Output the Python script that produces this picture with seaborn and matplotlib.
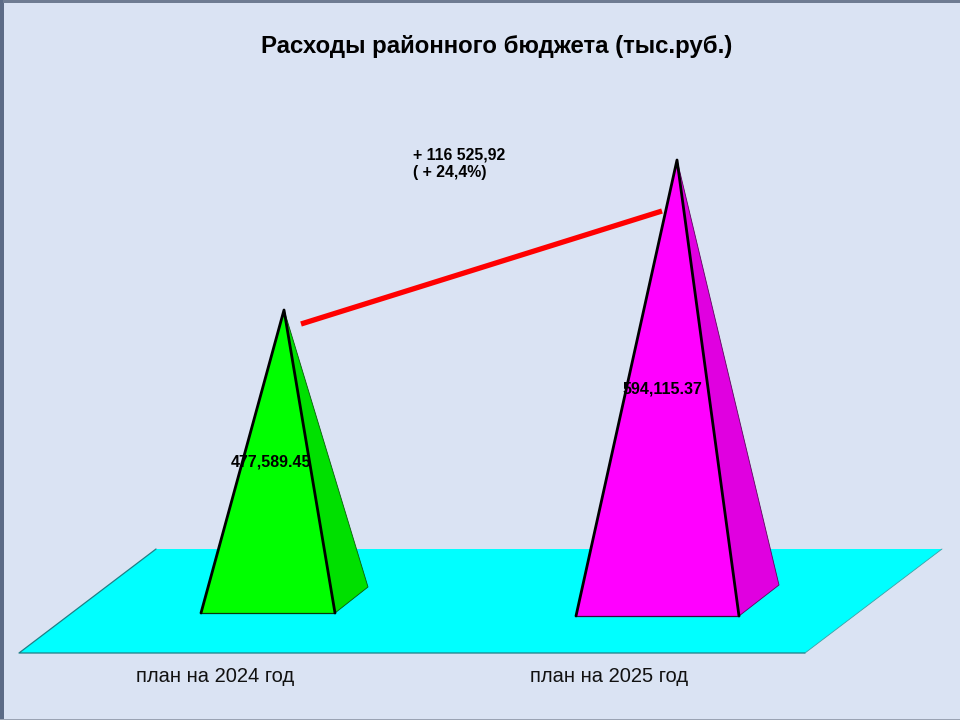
import matplotlib
matplotlib.use("Agg")
import matplotlib.pyplot as plt
import seaborn as sns
import pandas as pd
from matplotlib.patches import Polygon, Rectangle

# --- data ---
categories = ["план на 2024 год", "план на 2025 год"]
values = [477589.45, 594115.37]
value_labels = ["477,589.45", "594,115.37"]
title = "Расходы районного бюджета (тыс.руб.)"
change_label = ["+ 116 525,92", "( + 24,4%)"]

# --- layout (pixel space of the 960x720 slide) ---
W, H = 960, 720
Y_TOP, Y_BOTTOM = 718404.0, 159100.0   # value scale that fills the slide height
apex_x = [284, 677]
base_left = [201, 576]
base_right = [335, 739]
base_y = [613, 616]
back_x = [368, 779]
back_y = [587, 585]
front_colors = ["#00FF00", "#FF00FF"]
side_colors = ["#00E000", "#E000E0"]
floor_px = [(19, 653), (805, 653), (942, 549), (156, 549)]

sns.set_theme(style="white")
plt.rcParams["font.family"] = ["Liberation Sans", "DejaVu Sans"]

fig = plt.figure(figsize=(W / 100, H / 100), dpi=100, facecolor="#DAE3F3")
ax = fig.add_axes([0, 0, 1, 1])
ax.set_xlim(0, W)
ax.set_ylim(Y_BOTTOM, Y_TOP)
ax.set_facecolor("#DAE3F3")
ax.axis("off")


def py(pixel_y):
    """Convert a slide pixel row to the value scale of the axes."""
    return Y_TOP - (Y_TOP - Y_BOTTOM) * pixel_y / H


# slide frame
ax.add_patch(Rectangle((0, py(H)), 3.5, Y_TOP - Y_BOTTOM, color="#5C6B86", lw=0, zorder=1))
ax.add_patch(Rectangle((3, py(3)), W, py(0) - py(3), color="#6F7C92", lw=0, zorder=1))
ax.add_patch(Rectangle((0, py(H)), W, py(719) - py(H), color="#9AA3B3", lw=0, zorder=1))

# floor
ax.add_patch(Polygon([(x, py(y)) for x, y in floor_px], closed=True,
                     facecolor="#00FFFF", edgecolor="none", zorder=2))
ax.plot([floor_px[3][0], floor_px[0][0], floor_px[1][0]],
        [py(floor_px[3][1]), py(floor_px[0][1]), py(floor_px[1][1])],
        color="#1F7F86", lw=0.9, zorder=2.5)
ax.plot([floor_px[1][0], floor_px[2][0]], [py(floor_px[1][1]), py(floor_px[2][1])],
        color="#3F9FA6", lw=0.6, zorder=2.5)

# pyramids: the apex height comes from the value
for i, v in enumerate(values):
    apex = (apex_x[i], v)
    fl = (base_left[i], py(base_y[i]))
    fr = (base_right[i], py(base_y[i]))
    bk = (back_x[i], py(back_y[i]))
    ax.add_patch(Polygon([apex, fr, bk], closed=True, facecolor=side_colors[i],
                         edgecolor="#0A5A0A" if i == 0 else "#5A0A5A", lw=0.6,
                         joinstyle="round", zorder=3))
    ax.add_patch(Polygon([apex, fl, fr], closed=True, facecolor=front_colors[i],
                         edgecolor="none", zorder=4))
    ax.plot([fl[0], fr[0]], [fl[1], fr[1]], color="#0A3A0A" if i == 0 else "#3A0A3A",
            lw=0.9, zorder=5)
    ax.plot([fl[0], apex[0], fr[0]], [fl[1], apex[1], fr[1]], color="black", lw=2.0,
            solid_joinstyle="round", zorder=5)

# connector between the two pyramids
connector = pd.DataFrame({"x": [301, 662], "y": [py(324), py(211)]})
sns.lineplot(data=connector, x="x", y="y", color="#FF0000", lw=3.8, ax=ax, zorder=6,
             estimator=None, sort=False, solid_capstyle="butt")
ax.set_xlim(0, W)
ax.set_ylim(Y_BOTTOM, Y_TOP)
ax.axis("off")

# text
ax.text(497, py(47), title, ha="center", va="center", fontsize=17.3, fontweight="bold",
        color="black", zorder=7)
ax.text(413, py(155), change_label[0], ha="left", va="center", fontsize=11.4,
        fontweight="bold", color="black", zorder=7)
ax.text(413, py(172), change_label[1], ha="left", va="center", fontsize=11.4,
        fontweight="bold", color="black", zorder=7)
ax.text(271, py(462), value_labels[0], ha="center", va="center", fontsize=11.5,
        fontweight="bold", color="black", zorder=7)
ax.text(662, py(389), value_labels[1], ha="center", va="center", fontsize=11.5,
        fontweight="bold", color="black", zorder=7)
ax.text(215, py(677), categories[0], ha="center", va="center", fontsize=14.5,
        color="#111111", zorder=7)
ax.text(609, py(677), categories[1], ha="center", va="center", fontsize=14.5,
        color="#111111", zorder=7)

fig.savefig("out.png", dpi=100, facecolor=fig.get_facecolor())
